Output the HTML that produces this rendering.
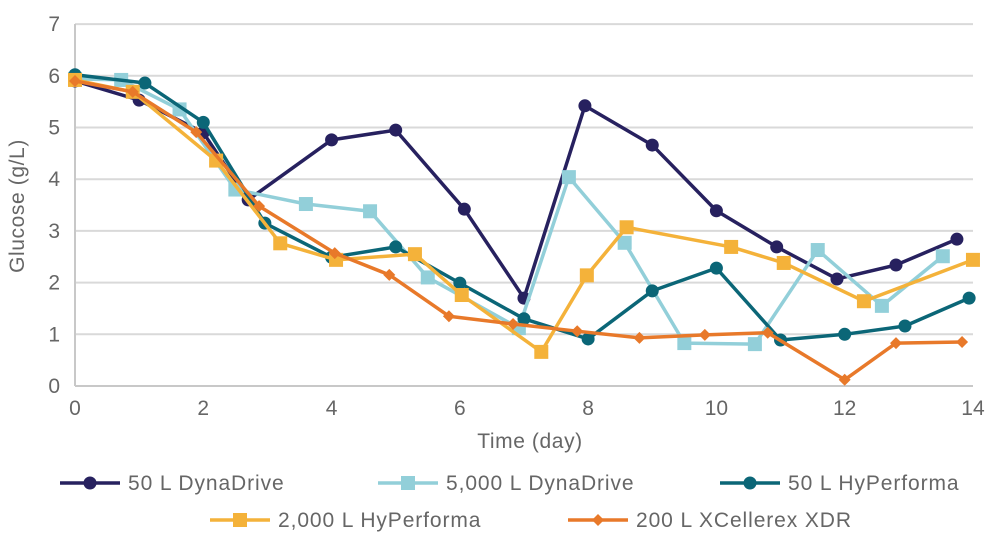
<!DOCTYPE html>
<html><head><meta charset="utf-8"><style>
body{margin:0;background:#fff;}
svg text{font-family:"Liberation Sans",sans-serif;fill:#666;}
</style></head><body>
<svg id="chart" width="988" height="546" viewBox="0 0 988 546">
<g id="grid"></g><g id="axes"></g><g id="series"></g><g id="legend"></g>
<text x="530" y="448" font-size="21" letter-spacing="0.6" text-anchor="middle">Time (day)</text>
<text transform="translate(24,206) rotate(-90)" font-size="21" letter-spacing="0.6" text-anchor="middle">Glucose (g/L)</text>
</svg>
<script>
const xTicks=[0,2,4,6,8,10,12,14];
const yTicks=[0,1,2,3,4,5,6,7];
const s1x=[0,1,2,2.7,4,5,6.07,7,7.95,9,10,10.94,11.88,12.8,13.75];
const s1y=[5.9,5.53,4.9,3.6,4.76,4.95,3.42,1.7,5.42,4.66,3.39,2.69,2.07,2.34,2.84];
const s2x=[0,0.72,1.63,2.5,3.6,4.6,5.5,6.92,7.7,8.57,9.5,10.6,11.58,12.58,13.53];
const s2y=[5.94,5.92,5.35,3.8,3.52,3.38,2.1,1.12,4.04,2.77,0.83,0.81,2.63,1.55,2.51];
const s3x=[0,1.09,2,2.96,4,5,6,7,8,9,10,11,12,12.94,13.94];
const s3y=[6.02,5.86,5.1,3.15,2.49,2.69,1.99,1.3,0.91,1.84,2.28,0.89,1.0,1.16,1.7];
const s4x=[0,0.9,2.2,3.2,4.07,5.3,6.03,7.27,7.98,8.6,10.23,11.05,12.3,14];
const s4y=[5.92,5.69,4.36,2.76,2.44,2.55,1.76,0.66,2.14,3.07,2.69,2.38,1.64,2.44];
const s5x=[0,0.9,1.89,2.87,4.05,4.9,5.83,6.83,7.83,8.8,9.82,10.8,12,12.8,13.83];
const s5y=[5.9,5.69,4.91,3.48,2.57,2.15,1.35,1.2,1.06,0.93,0.99,1.03,0.12,0.83,0.85];
const names=["50 L DynaDrive","5,000 L DynaDrive","50 L HyPerforma","2,000 L HyPerforma","200 L XCellerex XDR"];
const NS="http://www.w3.org/2000/svg";
const X=d=>75+d*64.14, Y=v=>386-v*51.7;
function mk(tag,attrs,parent){const e=document.createElementNS(NS,tag);for(const k in attrs)e.setAttribute(k,attrs[k]);parent.appendChild(e);return e;}
const grid=document.getElementById('grid'),axes=document.getElementById('axes'),ser=document.getElementById('series'),leg=document.getElementById('legend');
yTicks.forEach(v=>{
 if(v>0){const l=mk('line',{x1:75,x2:973,y1:Y(v),y2:Y(v),stroke:'#d9d9d9','stroke-width':2},grid);
 
 }
 const t=mk('text',{x:60,y:Y(v)+7,'font-size':21,'text-anchor':'end'},axes);t.textContent=v;
 
 
});
const ax=mk('line',{x1:75,x2:973,y1:386,y2:386,stroke:'#c8c8c8','stroke-width':2},axes);


const ay=mk('line',{x1:75,x2:75,y1:24,y2:386,stroke:'#c8c8c8','stroke-width':2},axes);


xTicks.forEach(d=>{const t=mk('text',{x:X(d),y:415,'font-size':21,'text-anchor':'middle'},axes);t.textContent=d;
 
 });
const colors=['#27215f','#92cfd9','#0b6677','#f4b23a','#e8792a'];
const shapes=['circle','square','circle','square','diamond'];
function marker(g,shape,x,y,c){
 if(shape==='circle')return mk('circle',{cx:x,cy:y,r:6.5,fill:c},g);
 if(shape==='square')return mk('rect',{x:x-7,y:y-7,width:14,height:14,fill:c},g);
 return mk('path',{d:`M${x} ${y-6}L${x+6} ${y}L${x} ${y+6}L${x-6} ${y}Z`,fill:c},g);
}
[[s1x,s1y],[s2x,s2y],[s3x,s3y],[s4x,s4y],[s5x,s5y]].forEach((s,i)=>{
 const g=mk('g',{},ser);
 
 
 const p=mk('polyline',{points:s[0].map((d,j)=>X(d)+','+Y(s[1][j])).join(' '),fill:'none',stroke:colors[i],'stroke-width':3.5,'stroke-linejoin':'round'},g);
 
 
 s[0].forEach((d,j)=>{const m=marker(g,shapes[i],X(d),Y(s[1][j]),colors[i]);
  
  });
});
const lpos=[[60,483],[378,483],[720,483],[210,520],[568,520]];
names.forEach((n,i)=>{
 const [x,y]=lpos[i];
 const g=mk('g',{},leg);
 
 
 mk('line',{x1:x,x2:x+60,y1:y,y2:y,stroke:colors[i],'stroke-width':3.5},g);
 marker(g,shapes[i],x+30,y,colors[i]);
 const t=mk('text',{x:x+68,y:y+7,'font-size':21,'letter-spacing':'0.9'},g);t.textContent=n;
});
</script>
</body></html>
